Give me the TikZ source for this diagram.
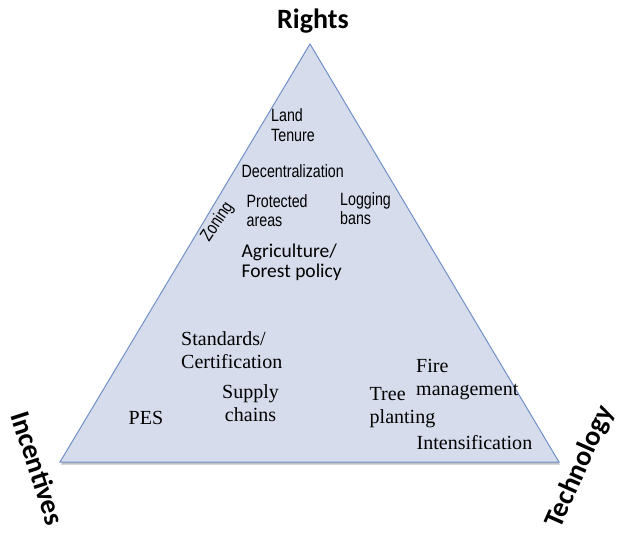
\documentclass[tikz,border=0pt]{standalone}
\usepackage{fontspec}
\setmainfont{Liberation Serif}
\newfontfamily\calibri{Carlito}
\newfontfamily\narrowsans[FakeStretch=0.8]{Liberation Sans}
\definecolor{trifill}{HTML}{D6DCEB}
\definecolor{triedge}{HTML}{7090C8}
\begin{document}
\begin{tikzpicture}[x=1pt,y=-1pt,
  corner/.style={font=\calibri\bfseries\fontsize{28}{32}\selectfont, inner sep=0},
  narrowlbl/.style={font=\narrowsans\fontsize{17.8}{19.5}\selectfont, align=left, inner sep=0, anchor=north west},
  seriflbl/.style={font=\fontsize{20}{22.5}\selectfont, align=left, inner sep=0, anchor=north west},
  caliblbl/.style={font=\calibri\fontsize{19.5}{20.5}\selectfont, align=left, inner sep=0, anchor=north west}]
\useasboundingbox (0,0) rectangle (617,534);
\coordinate (apex) at (310,44);
\coordinate (bl) at (60,462);
\coordinate (br) at (559,462);
% soft shadow
\fill[black!45, opacity=0.55] ([xshift=1pt,yshift=-2.5pt]apex) -- ([xshift=1pt,yshift=-2.5pt]bl) -- ([xshift=1pt,yshift=-2.5pt]br) -- cycle;
\draw[triedge, fill=trifill, line width=1pt] (apex) -- (bl) -- (br) -- cycle;
% corner labels
\node[corner] (rights) at (313,21) {Rights};
\node[corner, rotate=-72] (incentives) at (38,468) {Incentives};
\node[corner, rotate=66] (technology) at (580,467) {Technology};
% Rights policies
\node[narrowlbl] (land) at (271,108.5) {Land\\Tenure};
\node[narrowlbl] (decentral) at (241.5,164.5) {Decentralization};
\node[narrowlbl] (protected) at (246.5,194) {Protected\\areas};
\node[narrowlbl] (logging) at (340,192) {Logging\\bans};
\node[narrowlbl, anchor=center, rotate=56] (zoning) at (217.5,222) {Zoning};
\node[caliblbl] (agri) at (241.5,243.5) {Agriculture/\\Forest policy};
% Incentives
\node[seriflbl] (standards) at (181,331.5) {Standards/\\Certification};
\node[seriflbl, align=center] (supply) at (222,384.5) {Supply\\chains};
\node[seriflbl] (pes) at (128.5,411) {PES};
% Technology
\node[seriflbl] (fire) at (416,359.5) {Fire\\management};
\node[seriflbl] (tree) at (369.5,387.5) {Tree\\planting};
\node[seriflbl] (intens) at (416.5,435.5) {Intensification};
\end{tikzpicture}
\end{document}
